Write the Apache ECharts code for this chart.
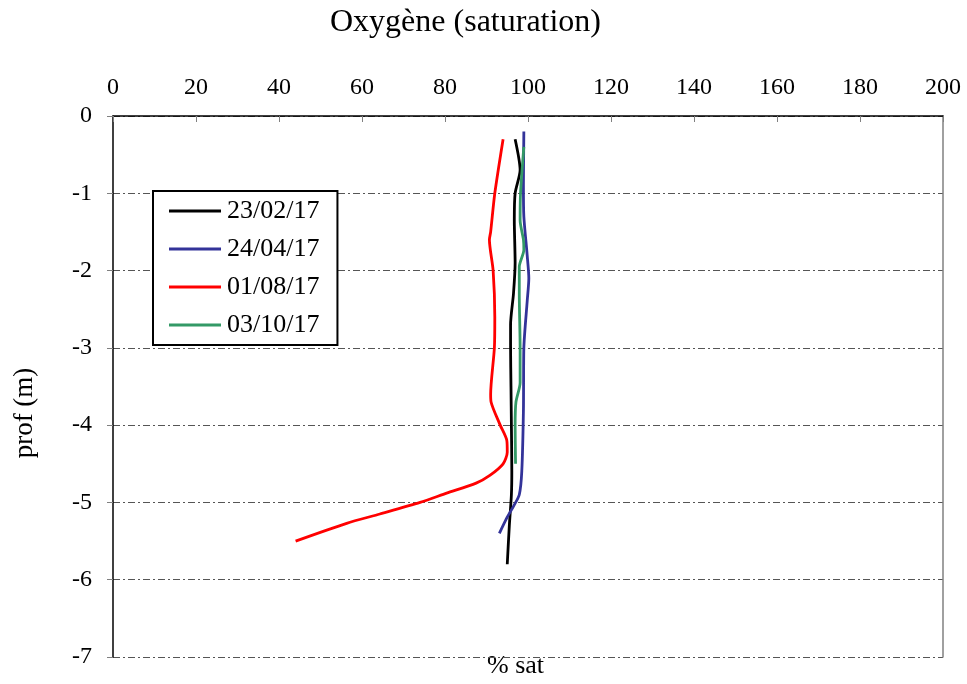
<!DOCTYPE html>
<html>
<head>
<meta charset="utf-8">
<script src="https://cdn.jsdelivr.net/npm/echarts@6/dist/echarts.min.js"></script>
<style>
  html, body { margin: 0; padding: 0; background: #fff; }
  #chart { width: 967px; height: 684px; }
</style>
</head>
<body>
<div id="chart"></div>
<script>
// Oxygen saturation profiles (% sat) against depth (m)
const seriesNames = ['23/02/17', '24/04/17', '01/08/17', '03/10/17'];
const seriesColors = ['#000000', '#333399', '#FF0000', '#339966'];

const depth_230217 = [-0.3, -0.7, -1.0, -1.35, -1.9, -2.3, -2.7, -3.0, -3.5, -4.0, -4.6, -4.9, -5.3, -5.8];
const sat_230217   = [96.9, 98.1, 96.9, 96.7, 96.9, 96.5, 95.8, 95.8, 95.9, 96.0, 96.1, 96.0, 95.5, 95.0];

const depth_240417 = [-0.2, -0.9, -1.3, -1.8, -2.1, -2.4, -3.0, -3.8, -4.6, -4.9, -5.05, -5.2, -5.4];
const sat_240417   = [99.0, 98.9, 99.0, 99.8, 100.2, 99.8, 99.0, 98.9, 98.5, 97.9, 96.5, 94.9, 93.1];

const depth_010817 = [-0.3, -1.0, -1.5, -1.6, -2.0, -2.6, -3.0, -3.6, -3.7, -4.0, -4.2, -4.35, -4.5, -4.65, -4.75, -4.88, -5.0, -5.15, -5.27, -5.5];
const sat_010817   = [94.0, 92.0, 91.0, 90.7, 91.6, 92.0, 91.9, 91.0, 91.1, 93.3, 94.9, 95.0, 94.0, 90.8, 87.5, 80.4, 74.0, 64.3, 56.3, 44.0];

const depth_031017 = [-0.4, -1.0, -1.35, -1.6, -1.73, -1.95, -2.3, -3.0, -3.45, -3.7, -4.0, -4.5];
const sat_031017   = [99.0, 98.2, 98.1, 98.9, 99.0, 97.9, 97.9, 98.1, 98.1, 97.1, 96.9, 97.0];

const profiles = [
  [sat_230217, depth_230217],
  [sat_240417, depth_240417],
  [sat_010817, depth_010817],
  [sat_031017, depth_031017]
];

const FONT = 'Liberation Serif';
const chart = echarts.init(document.getElementById('chart'), null, { renderer: 'canvas' });

const gridDash = [7, 3, 2, 3];

chart.setOption({
  backgroundColor: '#ffffff',
  animation: false,
  textStyle: { fontFamily: FONT, color: '#000' },
  grid: { left: 113, right: 24, top: 116, bottom: 27, containLabel: false },
  graphic: [
    { type: 'text', left: 330, top: 7, style: { text: 'Oxygène (saturation)', font: '32px "Liberation Serif"', fill: '#000' } },
    { type: 'text', left: 487, top: 653, style: { text: '% sat', font: '26px "Liberation Serif"', fill: '#000' } },
    { type: 'text', x: 25, y: 413, rotation: Math.PI / 2,
      style: { text: 'prof (m)', font: '27px "Liberation Serif"', fill: '#000', textAlign: 'center', textVerticalAlign: 'middle' } }
  ],
  legend: {
    orient: 'vertical',
    left: 153, top: 191,
    padding: [7, 18, 7, 16],
    itemGap: 12,
    itemWidth: 52, itemHeight: 3,
    icon: 'rect',
    backgroundColor: '#fff',
    borderColor: '#000', borderWidth: 2,
    textStyle: { fontFamily: FONT, fontSize: 26, color: '#000', padding: [0, 0, 0, 1] },
    data: seriesNames
  },
  xAxis: {
    type: 'value', position: 'top',
    min: 0, max: 200, interval: 20,
    axisLine: { show: true, lineStyle: { color: '#000', width: 1.5 } },
    axisTick: { show: true, inside: true, length: 6, lineStyle: { color: '#808080' } },
    axisLabel: { fontFamily: FONT, fontSize: 24, color: '#000', margin: 16 },
    splitLine: { show: false }
  },
  yAxis: [
    {
      type: 'value', min: -7, max: 0, interval: 1,
      axisLine: { show: true, onZero: false, lineStyle: { color: '#000', width: 1.5 } },
      axisTick: { show: true, inside: false, length: 6, lineStyle: { color: '#808080' } },
      axisLabel: { fontFamily: FONT, fontSize: 24, color: '#000', margin: 21 },
      splitLine: { show: true, lineStyle: { color: '#555', width: 1, type: gridDash } }
    },
    {
      type: 'value', position: 'right', min: -7, max: 0, interval: 1,
      axisLine: { show: true, onZero: false, lineStyle: { color: '#808080', width: 1.5 } },
      axisTick: { show: false }, axisLabel: { show: false }, splitLine: { show: false }
    }
  ],
  series: profiles.map(function (p, i) {
    return {
      name: seriesNames[i],
      type: 'line',
      yAxisIndex: 0,
      smooth: 0.25,
      showSymbol: false,
      symbol: 'none',
      color: seriesColors[i],
      lineStyle: { color: seriesColors[i], width: 2.8 },
      data: p[0].map(function (v, k) { return [v, p[1][k]]; })
    };
  })
});
</script>
</body>
</html>
